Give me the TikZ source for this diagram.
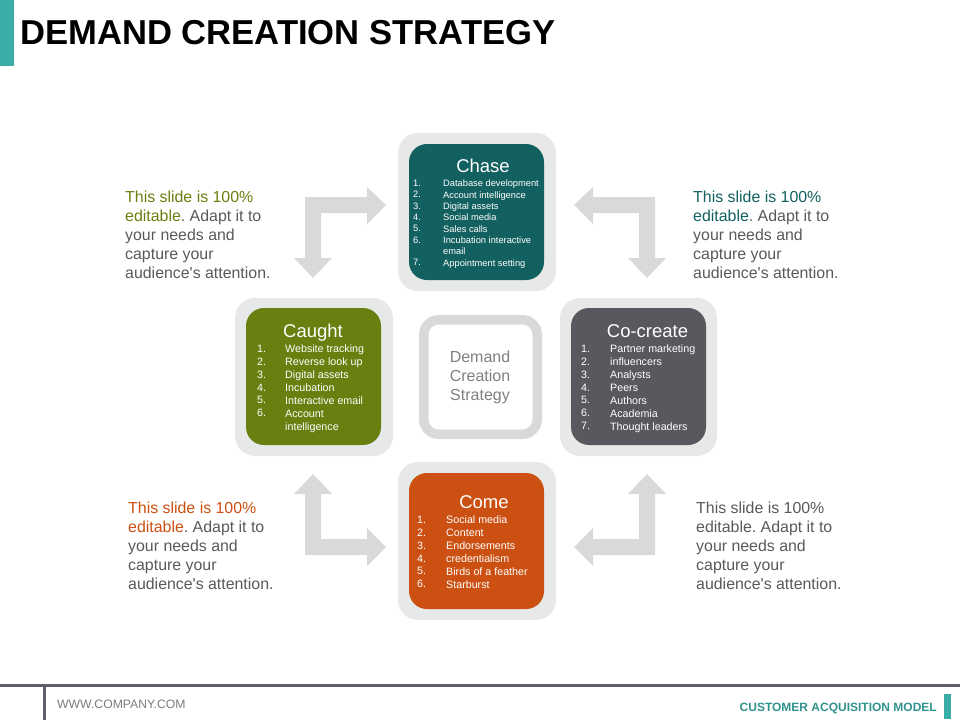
\documentclass[tikz,border=0pt]{standalone}
\usepackage{fontspec}
\setmainfont{Liberation Sans}
\definecolor{tealbar}{HTML}{3AADA6}
\definecolor{ringgray}{HTML}{E7E8E8}
\definecolor{arrowgray}{HTML}{D9D9D9}
\definecolor{chasecol}{HTML}{136060}
\definecolor{caughtcol}{HTML}{68800F}
\definecolor{cocreatecol}{HTML}{58585F}
\definecolor{comecol}{HTML}{CB5012}
\definecolor{footgray}{HTML}{5F5F68}
\definecolor{sidegray}{HTML}{595959}
\definecolor{centergray}{HTML}{808080}
\newcommand{\fs}[2]{\fontsize{#1pt}{#2pt}\selectfont}
\newcommand{\aud}{audience\textquotesingle s attention.}
\tikzset{
  x=1pt,y=-1pt,
  outerbox/.style={fill=ringgray,draw=none,rounded corners=20pt},
  innerbox/.style={draw=none,rounded corners=18pt},
  flow/.style={fill=arrowgray,draw=none},
  boxtitle/.style={text=white,anchor=base,inner sep=0pt,font=\fs{18.5}{20}},
  listtext/.style={text=white,anchor=north west,inner sep=0pt,align=left},
  sidetext/.style={text=sidegray,anchor=north west,inner sep=0pt,align=left,font=\frenchspacing\fs{15.9}{19}},
}
\begin{document}
\begin{tikzpicture}
\useasboundingbox (0,0) rectangle (960,720);
\fill[tealbar] (0,0) rectangle (14,66);
\node[anchor=base west,inner sep=0pt,font=\fs{34.6}{40}\bfseries,text=black] (title) at (20,44) {DEMAND CREATION STRATEGY};

% flow arrows
\fill[flow] (305,258) -- (294,258) -- (313,278) -- (332,258) -- (321,258) -- (321,213) -- (367,213) -- (367,224) -- (386,205) -- (367,187) -- (367,197) -- (305,197) -- cycle;
\fill[flow] (655,258) -- (666,258) -- (647,278) -- (628,258) -- (639,258) -- (639,213) -- (593,213) -- (593,224) -- (574,205) -- (593,187) -- (593,197) -- (655,197) -- cycle;
\fill[flow] (305,494) -- (294,494) -- (313,474) -- (332,494) -- (321,494) -- (321,539) -- (367,539) -- (367,528) -- (386,547) -- (367,566) -- (367,555) -- (305,555) -- cycle;
\fill[flow] (655,494) -- (666,494) -- (647,474) -- (628,494) -- (639,494) -- (639,539) -- (593,539) -- (593,528) -- (574,547) -- (593,566) -- (593,555) -- (655,555) -- cycle;

% boxes
\fill[outerbox] (398,133) rectangle (556,291);
\fill[innerbox,fill=chasecol] (409,144) rectangle (544,280);
\fill[outerbox] (235,298) rectangle (393,456);
\fill[innerbox,fill=caughtcol] (246,308) rectangle (381,445);
\fill[outerbox] (560,298) rectangle (717,456);
\fill[innerbox,fill=cocreatecol] (571,308) rectangle (706,445);
\fill[outerbox] (398,462) rectangle (556,620);
\fill[innerbox,fill=comecol] (409,473) rectangle (544,609);
\draw[arrowgray,line width=9.5pt,rounded corners=15pt,fill=white] (423.75,319.75) rectangle (537.25,434.25);

\node[text=centergray,anchor=north,inner sep=0pt,align=center,font=\fs{16}{19}] (center) at (480,351) {Demand\\Creation\\Strategy};

% Chase
\node[boxtitle] (chaseT) at (483,172) {Chase};
\node[listtext,font=\fs{9.3}{11.3}] (chaseN) at (413,180) {1.\\2.\\3.\\4.\\5.\\6.\\\mbox{}\\7.};
\node[listtext,font=\fs{9.3}{11.3}] (chaseL) at (443,180) {Database development\\Account intelligence\\Digital assets\\Social media\\Sales calls\\Incubation interactive\\email\\Appointment setting};
% Caught
\node[boxtitle] (caughtT) at (313,337) {Caught};
\node[listtext,font=\fs{10.7}{12.85}] (caughtN) at (257,345) {1.\\2.\\3.\\4.\\5.\\6.};
\node[listtext,font=\fs{10.7}{12.85}] (caughtL) at (285,345) {Website tracking\\Reverse look up\\Digital assets\\Incubation\\Interactive email\\Account\\intelligence};
% Co-create
\node[boxtitle] (cocreateT) at (647.5,337) {Co-create};
\node[listtext,font=\fs{10.7}{12.85}] (cocreateN) at (581,345) {1.\\2.\\3.\\4.\\5.\\6.\\7.};
\node[listtext,font=\fs{10.7}{12.85}] (cocreateL) at (610,345) {Partner marketing\\influencers\\Analysts\\Peers\\Authors\\Academia\\Thought leaders};
% Come
\node[boxtitle] (comeT) at (484,508) {Come};
\node[listtext,font=\fs{10.7}{12.85}] (comeN) at (417,516) {1.\\2.\\3.\\4.\\5.\\6.};
\node[listtext,font=\fs{10.7}{12.85}] (comeL) at (446,516) {Social media\\Content\\Endorsements\\credentialism\\Birds of a feather\\Starburst};

% side texts
\node[sidetext] (tl) at (125,191) {\textcolor{caughtcol}{This slide is 100\%}\\\textcolor{caughtcol}{editable}. Adapt it to\\your needs and\\capture your\\\aud};
\node[sidetext] (tr) at (693,191) {\textcolor{chasecol}{This slide is 100\%}\\\textcolor{chasecol}{editable}. Adapt it to\\your needs and\\capture your\\\aud};
\node[sidetext] (bl) at (128,502) {\textcolor{comecol}{This slide is 100\%}\\\textcolor{comecol}{editable}. Adapt it to\\your needs and\\capture your\\\aud};
\node[sidetext] (br) at (696,502) {This slide is 100\%\\editable. Adapt it to\\your needs and\\capture your\\\aud};

% footer
\fill[footgray] (0,683.5) rectangle (960,687);
\fill[footgray] (43,687) rectangle (46,720);
\node[anchor=base west,inner sep=0pt,font=\fs{12.2}{14},text=sidegray!80] (www) at (57,708.5) {WWW.COMPANY.COM};
\node[anchor=base east,inner sep=0pt,font=\fs{12}{14}\bfseries,text=tealbar!85!black] (model) at (937,711) {CUSTOMER ACQUISITION MODEL};
\fill[tealbar] (944,694) rectangle (951,719);
\end{tikzpicture}
\end{document}
